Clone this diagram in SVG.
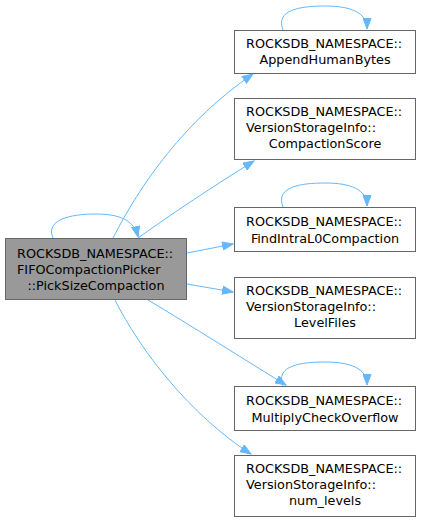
<svg xmlns="http://www.w3.org/2000/svg" width="421" height="523" viewBox="0 0 421 523">
<defs>
<marker id="ah" markerUnits="userSpaceOnUse" markerWidth="12" markerHeight="9" refX="11" refY="4.5" orient="auto">
<path d="M0.5,0.5 L11,4.5 L0.5,8.5 z" fill="#63b8ff" stroke="#63b8ff" stroke-width="1"/>
</marker>
</defs>
<style>
.box{fill:#ffffff;stroke:#666666;stroke-width:1}
.main{fill:#999999;stroke:#666666;stroke-width:1}
text{font-family:"DejaVu Sans",sans-serif;font-size:12.8px;fill:#000000}
.m{text-anchor:middle}
.e{fill:none;stroke:#63b8ff;stroke-width:1;marker-end:url(#ah)}
</style>
<rect width="421" height="523" fill="#ffffff"/>
<g id="connectors">
<path class="e" d="M53,238 C45,220 70,214 95,214 C120,214 134,220 138,237"/>
<path class="e" d="M113,238 C140,185 185,120 253,74"/>
<path class="e" d="M138,238 C170,215 215,185 254,161"/>
<path class="e" d="M187,253 L233,244"/>
<path class="e" d="M187,284 L233,292"/>
<path class="e" d="M148,300 C190,325 245,360 286,385"/>
<path class="e" d="M115,300 C140,350 190,415 251,454"/>
<path class="e" d="M283,30 C275,10 300,6 325,6 C350,6 367,12 367,29"/>
<path class="e" d="M283,207 C275,187 300,183 325,183 C350,183 367,189 367,206"/>
<path class="e" d="M283,386 C275,366 300,362 325,362 C350,362 367,368 367,385"/>
</g>
<g id="main">
<rect class="main" x="5.5" y="238.5" width="181" height="61"/>
<text x="17" y="257.5">ROCKSDB_NAMESPACE::</text>
<text x="17" y="274">FIFOCompactionPicker</text>
<text class="m" x="96" y="290">::PickSizeCompaction</text>
</g>
<g id="n1">
<rect class="box" x="234.5" y="30.5" width="181" height="43"/>
<text x="246" y="47.5">ROCKSDB_NAMESPACE::</text>
<text class="m" x="325" y="63.5">AppendHumanBytes</text>
</g>
<g id="n2">
<rect class="box" x="234.5" y="98.5" width="181" height="61"/>
<text x="246" y="115.5">ROCKSDB_NAMESPACE::</text>
<text x="246" y="131.5">VersionStorageInfo::</text>
<text class="m" x="325" y="147.5">CompactionScore</text>
</g>
<g id="n3">
<rect class="box" x="234.5" y="207.5" width="181" height="44"/>
<text x="246" y="226">ROCKSDB_NAMESPACE::</text>
<text class="m" x="325" y="242.5">FindIntraL0Compaction</text>
</g>
<g id="n4">
<rect class="box" x="234.5" y="277.5" width="181" height="61"/>
<text x="246" y="294.5">ROCKSDB_NAMESPACE::</text>
<text x="246" y="310.5">VersionStorageInfo::</text>
<text class="m" x="325" y="326.5">LevelFiles</text>
</g>
<g id="n5">
<rect class="box" x="234.5" y="386.5" width="181" height="44"/>
<text x="246" y="405">ROCKSDB_NAMESPACE::</text>
<text class="m" x="325" y="421.5">MultiplyCheckOverflow</text>
</g>
<g id="n6">
<rect class="box" x="234.5" y="455.5" width="181" height="61"/>
<text x="246" y="472.5">ROCKSDB_NAMESPACE::</text>
<text x="246" y="488.5">VersionStorageInfo::</text>
<text class="m" x="325" y="504.5">num_levels</text>
</g>
</svg>
